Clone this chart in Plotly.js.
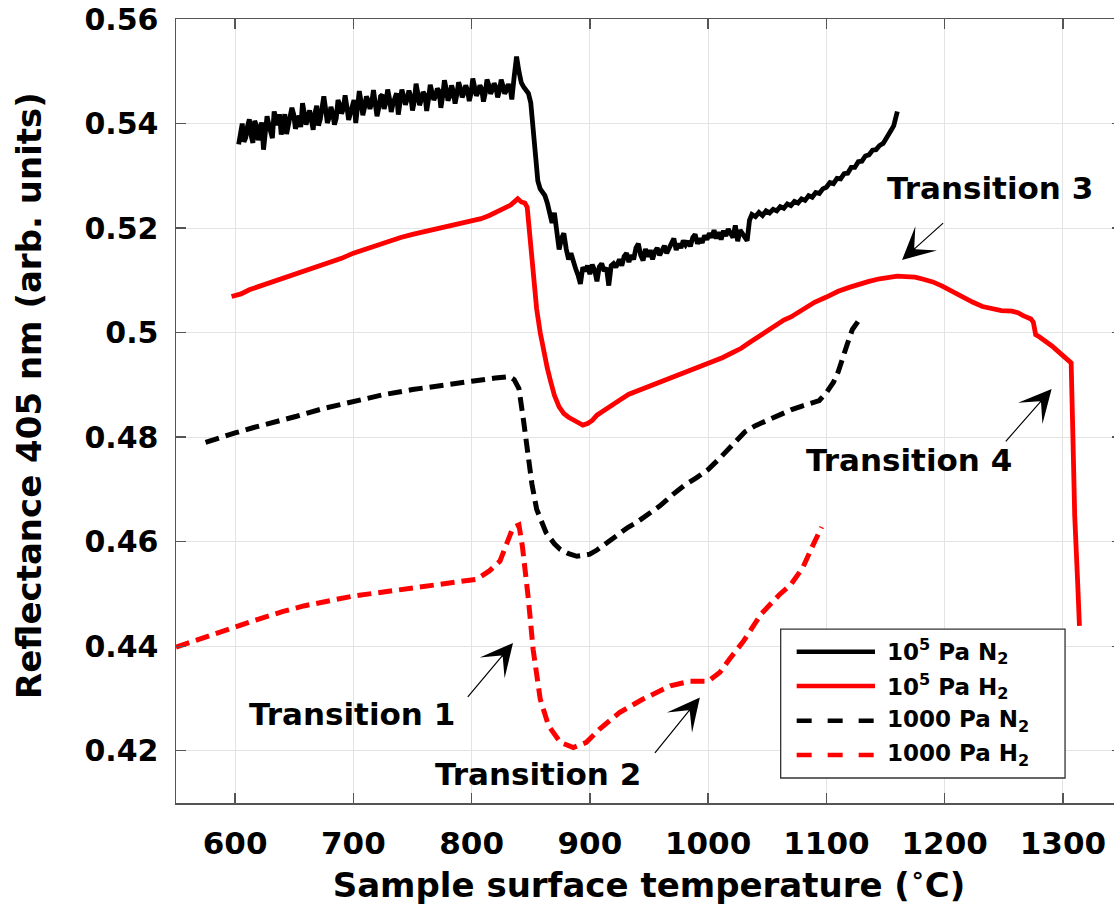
<!DOCTYPE html>
<html>
<head>
<meta charset="utf-8">
<script src="https://cdn.plot.ly/plotly-3.0.1.min.js"></script>
<style>
html, body { margin: 0; padding: 0; overflow: hidden; background: #fff; }
#chart { width: 1130px; height: 905px; }
</style>
</head>
<body>
<div id="chart"></div>
<script>
// ---- Data ----
const seriesNames = ["10<sup>5</sup> Pa N<sub>2</sub>", "10<sup>5</sup> Pa H<sub>2</sub>", "1000 Pa N<sub>2</sub>", "1000 Pa H<sub>2</sub>"];

// 10^5 Pa N2 (black solid, noisy)
const n2AtmT = [603,604.5,606,607.5,609,610.5,612,613.5,615,616.5,618,619.5,621,622.5,624,625.5,627,628.5,630,631.5,633,634.5,636,637.5,639,640.5,642,643.5,645,646.5,648,649.5,651,652.5,654,655.5,657,658.5,660,661.5,663,664.5,666,667.5,669,670.5,672,673.5,675,676.5,678,679.5,681,682.5,684,685.5,687,688.5,690,691.5,693,694.5,696,697.5,699,700.5,702,703.5,705,706.5,708,709.5,711,712.5,714,715.5,717,718.5,720,721.5,723,724.5,726,727.5,729,730.5,732,733.5,735,736.5,738,739.5,741,742.5,744,745.5,747,748.5,750,751.5,753,754.5,756,757.5,759,760.5,762,763.5,765,766.5,768,769.5,771,772.5,774,775.5,777,778.5,780,781.5,783,784.5,786,787.5,789,790.5,792,793.5,795,796.5,798,799.5,801,802.5,804,805.5,807,808.5,810,811.5,813,814.5,816,817.5,819,820.5,822,823.5,825,826.5,828,829.5,831,832.5,834,
836,838,840,842,844,846,848,850,852,854,856,858,860,862,864,866,868,870,872,874,876,878,880,882,884,
886,888,890,892,894,896,898,900,902,904,906,908,910,912,914,916,918,920,922,925,927,929,931,933,935,937,939,941,943,945,947,949,951,953,955,957,959,961,963,965,967,969,971,973,975,977,979,981,983,985,987,989,991,993,995,997,999,1001,1003,1005,1007,1009,1011,1013,1015,1017,1019,1021,1023,1025,1027,1029,1031,1033,1035,1037,
1040,1043,1046,1049,1052,1055,1058,1061,1064,1067,1070,1073,1076,1079,1082,1085,1088,1091,1094,1097,1100,1103,1106,1109,1112,1115,1118,1121,1124,1127,1130,1133,1136,1139,1142,1145,1148,1151,1153,1155,1157,1159,1160];
const n2AtmR = [.5360,.5385,.5400,.5365,.5373,.5395,.5408,.5378,.5363,.5405,.5397,.5368,.5383,.5402,.5350,.5375,.5414,.5398,.5383,.5372,.5423,.5410,.5397,.5418,.5379,.5392,.5418,.5380,.5396,.5412,.5430,.5418,.5390,.5402,.5415,.5393,.5439,.5420,.5398,.5412,.5425,.5406,.5388,.5420,.5434,.5396,.5408,.5430,.5452,.5428,.5401,.5411,.5432,.5420,.5398,.5410,.5445,.5436,.5419,.5428,.5454,.5432,.5407,.5420,.5438,.5445,.5401,.5425,.5462,.5442,.5416,.5431,.5452,.5444,.5428,.5440,.5464,.5438,.5414,.5430,.5452,.5455,.5428,.5440,.5465,.5448,.5422,.5438,.5449,.5458,.5417,.5436,.5465,.5452,.5436,.5447,.5463,.5452,.5425,.5442,.5476,.5458,.5435,.5446,.5460,.5455,.5424,.5446,.5474,.5460,.5445,.5452,.5467,.5462,.5430,.5452,.5483,.5466,.5444,.5452,.5473,.5462,.5438,.5456,.5479,.5468,.5450,.5458,.5473,.5464,.5443,.5458,.5486,.5470,.5453,.5460,.5473,.5466,.5442,.5458,.5484,.5474,.5457,.5464,.5477,.5470,.5450,.5462,.5484,.5472,.5457,.5464,.5475,.5468,.5446,
.5490,.5528,.5500,.5478,.5470,.5462,.5458,.5440,.5390,.5330,.5290,.5275,.5268,.5262,.5248,.5232,.5210,.5229,.5200,.5159,.5180,.5190,.5160,.5140,.5152,
.5135,.5122,.5110,.5093,.5125,.5118,.5128,.5112,.5130,.5120,.5098,.5126,.5132,.5118,.5124,.5090,.5128,.5132,.5125,.5140,.5128,.5146,.5152,.5135,.5148,.5140,.5162,.5170,.5148,.5138,.5160,.5145,.5158,.5140,.5155,.5162,.5148,.5158,.5166,.5152,.5160,.5172,.5180,.5158,.5170,.5162,.5176,.5168,.5175,.5165,.5182,.5188,.5170,.5180,.5172,.5186,.5178,.5190,.5182,.5196,.5180,.5192,.5178,.5195,.5185,.5198,.5188,.5182,.5205,.5175,.5196,.5188,.5180,.5176,.5215,.5226,
.5222,.5230,.5224,.5233,.5229,.5236,.5233,.5241,.5238,.5246,.5243,.5251,.5248,.5256,.5253,.5262,.5259,.5268,.5266,.5275,.5278,.5287,.5285,.5295,.5294,.5304,.5305,.5316,.5316,.5327,.5328,.5338,.5340,.5349,.5350,.5358,.5362,.5372,.5378,.5388,.5396,.5410,.5423];

// 10^5 Pa H2 (red solid)
const h2AtmT = [597,605,612,620,628,636,645,653,662,670,680,690,700,710,720,730,740,750,760,770,780,790,800,808,815,822,828,833,837,839,842,845,847,849,852,855,858,861,864,867,870,874,878,882,886,890,894,898,902,906,910,915,920,926,933,940,948,956,964,972,980,988,996,1004,1012,1020,1028,1035,1042,1050,1057,1064,1070,1077,1084,1090,1100,1110,1120,1128,1136,1145,1152,1160,1167,1175,1182,1190,1198,1207,1215,1224,1232,1240,1248,1257,1262,1266,1270,1273,1275,1277,1280,1284,1288,1291,1295,1299,1302,1305,1307,1308.5,1310,1312.5,1314];
const h2AtmR = [.5069,.5074,.5082,.5088,.5095,.5100,.5108,.5113,.5121,.5126,.5135,.5142,.5152,.5160,.5168,.5176,.5182,.5188,.5193,.5198,.5203,.5208,.5213,.5218,.5224,.5231,.5238,.5244,.5252,.5256,.5250,.5248,.5240,.5190,.5110,.5045,.5000,.4960,.4932,.4905,.4880,.4858,.4845,.4838,.4832,.4828,.4823,.4826,.4832,.4842,.4848,.4856,.4862,.4872,.4882,.4888,.4895,.4902,.4910,.4916,.4924,.4930,.4936,.4944,.4952,.4961,.4970,.4981,.4992,.5004,.5015,.5024,.5030,.5040,.5050,.5058,.5068,.5079,.5087,.5093,.5098,.5103,.5106,.5108,.5107,.5106,.5102,.5097,.5089,.5078,.5068,.5058,.5050,.5046,.5042,.5041,.5038,.5033,.5030,.5026,.5020,.4996,.4992,.4986,.4980,.4974,.4966,.4958,.4950,.4946,.4942,.4800,.4650,.4522,.4439];

// 1000 Pa N2 (black dashed)
const n2LowT = [575,585,600,615,630,652,675,700,725,750,775,800,820,832,836,840,844,848,851,855,860,863,870,875,882,889,895,900,906,911,918,925,932,939,948,959,970,980,990,1000,1010,1020,1031,1040,1050,1060,1070,1080,1094,1100,1106,1110,1114,1118,1122,1127];
const n2LowR = [.4790,.4798,.4808,.4818,.4826,.4840,.4855,.4869,.4881,.4891,.4900,.4907,.4913,.4916,.4910,.4893,.4830,.4755,.4710,.4662,.4632,.4617,.4596,.4585,.4577,.4572,.4574,.4576,.4584,.4592,.4604,.4617,.4627,.4636,.4650,.4668,.4690,.4708,.4722,.4738,.4760,.4785,.4810,.4822,.4832,.4843,.4852,.4860,.4870,.4885,.4905,.4925,.4955,.4980,.5006,.5022];

// 1000 Pa H2 (red dashed)
const h2LowT = [550,565,580,601,620,640,658,680,700,720,742,760,784,804,815,824,831,835,840,843,848,852,858,865,875,886,897,908,925,945,968,985,1000,1010,1018,1030,1045,1060,1070,1080,1088,1096];
const h2LowR = [.4398,.4410,.4422,.4439,.4452,.4466,.4477,.4487,.4496,.4502,.4509,.4514,.4522,.4528,.4544,.4563,.4604,.4627,.4632,.4590,.4490,.4394,.4299,.4248,.4216,.4206,.4216,.4241,.4273,.4299,.4324,.4333,.4333,.4350,.4375,.4410,.4462,.4498,.4518,.4550,.4590,.4628];

const xTickVals = [600,700,800,900,1000,1100,1200,1300];
const xTickText = ["600","700","800","900","1000","1100","1200","1300"];
const yTickVals = [0.42,0.44,0.46,0.48,0.50,0.52,0.54,0.56];
const yTickText = ["0.42","0.44","0.46","0.48","0.5","0.52","0.54","0.56"];

const transitionLabels = ["Transition 1","Transition 2","Transition 3","Transition 4"];
const xTitle = "Sample surface temperature (<sup>∘</sup>C)";
const yTitle = "Reflectance 405 nm (arb. units)";

// ---- Styling / layout ----
const FONT = "DejaVu Sans, Verdana, sans-serif";
const colors = ["#000000", "#ff0000", "#000000", "#ff0000"];
const dashes = ["solid", "solid", "14px,7px", "14px,7px"];
const widths = [4.8, 4.8, 5, 5];

const xs = [n2AtmT, h2AtmT, n2LowT, h2LowT];
const ys = [n2AtmR, h2AtmR, n2LowR, h2LowR];

const traces = xs.map((x, i) => ({
  type: "scatter", mode: "lines", x: x, y: ys[i], name: seriesNames[i],
  line: {color: colors[i], width: widths[i], dash: dashes[i]},
  showlegend: false, hoverinfo: "skip"
}));

// Transition labels & arrows (positions in data coordinates)
const labelPos = [[699, 0.4270], [856, 0.4155], [1238, 0.5277], [1170, 0.4757]];
const arrowHead = [[835, 0.4406], [993, 0.4302], [1164, 0.5139], [1290.5, 0.4892]];
const arrowTail = [[795.7, 0.4300], [954, 0.4193], [1200, 0.5212], [1250.6, 0.4789]];

const annotations = [];
transitionLabels.forEach((t, i) => {
  annotations.push({x: labelPos[i][0], y: labelPos[i][1], xref: "x", yref: "y", text: t, showarrow: false,
    font: {family: FONT, size: 31, weight: "bold", color: "#000"}, xanchor: "center", yanchor: "middle"});
  annotations.push({x: arrowHead[i][0], y: arrowHead[i][1], ax: arrowTail[i][0], ay: arrowTail[i][1],
    xref: "x", yref: "y", axref: "x", ayref: "y", text: "", showarrow: true,
    arrowhead: 3, arrowsize: 4.5, arrowwidth: 1.2, arrowcolor: "#000", standoff: 0, startstandoff: 0});
});

// y-axis title placed as an annotation (centred where the reference has it)
annotations.push({xref: "paper", yref: "paper", x: -0.1554, y: 0.5204, text: yTitle, textangle: -90,
  showarrow: false, xanchor: "center", yanchor: "middle",
  font: {family: FONT, size: 34, weight: "bold", color: "#000"}});

// Custom legend (paper coordinates)
const shapes = [{type: "rect", xref: "paper", yref: "paper", x0: 0.6392, x1: 0.9398, y0: 0.0319, y1: 0.2219,
  line: {color: "#333", width: 1.3}, fillcolor: "#ffffff", layer: "above"}];
const rowsY = [0.1930, 0.1492, 0.1050, 0.0612];
seriesNames.forEach((nm, i) => {
  shapes.push({type: "line", xref: "paper", yref: "paper", x0: 0.6561, x1: 0.7389, y0: rowsY[i], y1: rowsY[i],
    line: {color: colors[i], width: 4.5, dash: i < 2 ? "solid" : "15px,16px"}, layer: "above"});
  annotations.push({xref: "paper", yref: "paper", x: 0.7495, y: rowsY[i], text: nm, showarrow: false,
    xanchor: "left", yanchor: "middle", font: {family: FONT, size: 23, weight: "bold", color: "#000"}});
});

const axisCommon = {
  showline: true, linecolor: "#555", linewidth: 1.5, mirror: "ticks",
  ticks: "inside", ticklen: 10, tickwidth: 1.3, tickcolor: "#555",
  showgrid: true, gridcolor: "#e3e3e3", gridwidth: 1, zeroline: false
};

const layout = {
  width: 1130, height: 905,
  margin: {l: 176, r: 8, t: 19, b: 102},
  paper_bgcolor: "#ffffff", plot_bgcolor: "#ffffff",
  font: {family: FONT, color: "#000"},
  xaxis: Object.assign({}, axisCommon, {
    range: [550, 1350], tickvals: xTickVals, ticktext: xTickText,
    tickfont: {family: FONT, size: 31, weight: "bold", color: "#000"}, ticklabelstandoff: 12,
    title: {text: xTitle, font: {family: FONT, size: 34, weight: "bold", color: "#000"}, standoff: 20}
  }),
  yaxis: Object.assign({}, axisCommon, {
    range: [0.41, 0.56], tickvals: yTickVals, ticktext: yTickText,
    tickfont: {family: FONT, size: 30, weight: "bold", color: "#000"}, ticklabelstandoff: 10
  }),
  annotations: annotations,
  shapes: shapes,
  showlegend: false
};

Plotly.newPlot("chart", traces, layout, {staticPlot: true, displayModeBar: false});
</script>
</body>
</html>
